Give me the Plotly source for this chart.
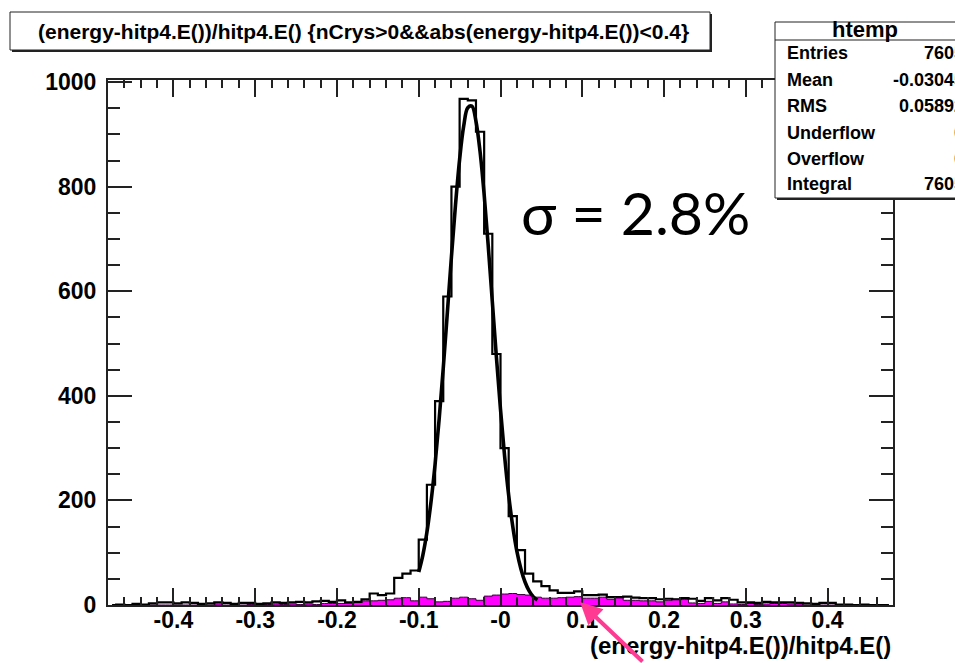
import numpy as np
import plotly.graph_objects as go

# ---------------- data ----------------
bin_low = -0.48
bin_width = 0.01
n_bins = 96

# black histogram: all entries (96 bins, -0.48 .. 0.48)
counts = [0, 1, 0, 2, 1, 3, 5, 5, 3, 5, 4, 2, 3, 5, 4, 2, 4, 4, 2, 3,
          5, 4, 5, 6, 5, 7, 8, 6, 9, 5, 6, 11, 22, 19, 22, 52, 60, 66, 125, 230,
          390, 590, 800, 968, 965, 905, 710, 480, 300, 170, 105, 60, 45, 36, 28, 23, 23, 26, 19, 19,
          20, 15, 15, 16, 14, 13, 13, 11, 12, 11, 13, 12, 8, 13, 9, 13, 10, 5, 5, 4,
          6, 5, 5, 5, 4, 3, 2, 4, 4, 1, 1, 0, 1, 0, 0, 0]

# magenta filled histogram (same binning)
sub_counts = [0, 0, 0, 0, 0, 0, 0, 0, 0, 0, 0, 0, 0, 2, 0, 0, 0, 1, 0, 1,
              2, 1, 2, 1, 2, 1, 3, 3, 3, 4, 6, 8, 8, 9, 10, 13, 14, 8, 15, 12,
              6, 7, 13, 15, 12, 9, 17, 19, 21, 22, 20, 19, 15, 13, 13, 14, 15, 16, 13, 13,
              15, 11, 14, 9, 9, 8, 8, 6, 9, 11, 11, 4, 3, 7, 3, 6, 2, 1, 3, 1,
              2, 3, 3, 2, 2, 0, 0, 0, 0, 0, 0, 0, 0, 0, 0, 0]

# fitted curve, points
fit_x = [-0.100, -0.095, -0.090, -0.085, -0.080, -0.075, -0.070, -0.065, -0.060, -0.055,
         -0.050, -0.045, -0.040, -0.035, -0.030, -0.025, -0.020, -0.015, -0.010, -0.005,
         0.000, 0.005, 0.010, 0.015, 0.020, 0.025, 0.030, 0.035, 0.040, 0.045]
fit_y = [63, 95, 139, 197, 269, 356, 453, 559, 666, 766,
         852, 916, 951, 954, 925, 867, 785, 687, 580, 474,
         374, 285, 210, 150, 103, 69, 44, 27, 16, 9.5]

x_tick_vals = [-0.4, -0.3, -0.2, -0.1, 0.0, 0.1, 0.2, 0.3, 0.4]
x_tick_text = ["-0.4", "-0.3", "-0.2", "-0.1", "-0", "0.1", "0.2", "0.3", "0.4"]
y_tick_vals = [0, 200, 400, 600, 800, 1000]
y_tick_text = ["0", "200", "400", "600", "800", "1000"]

title_text = "(energy-hitp4.E())/hitp4.E() {nCrys>0&&abs(energy-hitp4.E())<0.4}"
x_title = "(energy-hitp4.E())/hitp4.E()"
stats_name = "htemp"
stats_labels = ["Entries", "Mean", "RMS", "Underflow", "Overflow", "Integral"]
stats_values = ["7605", "-0.03045", "0.05892", "0", "0", "7605"]
sigma_text = "σ = 2.8%"

centers = np.round(bin_low + bin_width * (np.arange(n_bins) + 0.5), 4)

# ---------------- layout helpers ----------------
W, H = 955, 663
L, R, T, B = 108, 893, 80, 605


def px(x):
    return (x - L) / (R - L)


def py(y):
    return (B - y) / (B - T)


FONT = "Liberation Sans, Arial, sans-serif"

fig = go.Figure()
fig.add_trace(go.Scatter(x=centers, y=sub_counts, mode="lines",
                         line=dict(shape="hvh", color="#3a003a", width=1),
                         fill="tozeroy", fillcolor="#ff00ff", hoverinfo="skip"))
fig.add_trace(go.Scatter(x=centers, y=counts, mode="lines",
                         line=dict(shape="hvh", color="black", width=2.2), hoverinfo="skip"))
fig.add_trace(go.Scatter(x=fit_x, y=fit_y, mode="lines",
                         line=dict(shape="spline", color="black", width=3.6), hoverinfo="skip"))

axis_common = dict(showline=True, linewidth=2, linecolor="#222", mirror="ticks",
                   ticks="inside", tickcolor="#222", tickwidth=1.5,
                   showgrid=False, zeroline=False,
                   tickfont=dict(family=FONT, size=23, color="black", weight="bold"))

fig.update_layout(
    width=W, height=H,
    margin=dict(l=L, r=W - R, t=T, b=H - B, pad=0),
    paper_bgcolor="white", plot_bgcolor="white",
    showlegend=False,
    xaxis=dict(range=[-0.48, 0.48], tickmode="array", tickvals=x_tick_vals, ticktext=x_tick_text,
               ticklen=17, ticklabelstandoff=-7,
               minor=dict(ticks="inside", ticklen=8, tickmode="linear", tick0=0, dtick=0.02,
                          tickcolor="#222", tickwidth=1.5, showgrid=False),
               **axis_common),
    yaxis=dict(range=[0, 1004], tickmode="array", tickvals=y_tick_vals, ticktext=y_tick_text,
               ticklen=24, ticklabelstandoff=5,
               minor=dict(ticks="inside", ticklen=12, tickmode="linear", tick0=0, dtick=50,
                          tickcolor="#222", tickwidth=1.5, showgrid=False),
               **axis_common),
)

shapes = []
# title box with shadow
shapes.append(dict(type="rect", xref="paper", yref="paper", x0=px(12), x1=px(712), y0=py(52), y1=py(14),
                   fillcolor="#222", line=dict(width=0), layer="above"))
shapes.append(dict(type="rect", xref="paper", yref="paper", x0=px(10), x1=px(710), y0=py(50), y1=py(12),
                   fillcolor="white", line=dict(color="#222", width=1), layer="above"))
# stats box with shadow
shapes.append(dict(type="rect", xref="paper", yref="paper", x0=px(777), x1=px(990), y0=py(200), y1=py(24),
                   fillcolor="#222", line=dict(width=0), layer="above"))
shapes.append(dict(type="rect", xref="paper", yref="paper", x0=px(775), x1=px(988), y0=py(198), y1=py(22),
                   fillcolor="white", line=dict(color="#222", width=1), layer="above"))
shapes.append(dict(type="line", xref="paper", yref="paper", x0=px(775), x1=px(988), y0=py(40), y1=py(40),
                   line=dict(color="#222", width=1.2), layer="above"))
fig.update_layout(shapes=shapes)

ann = []
ann.append(dict(text=title_text, x=px(363), y=py(31), xref="paper", yref="paper",
                xanchor="center", yanchor="middle", showarrow=False,
                font=dict(family=FONT, size=21, color="black", weight="bold")))
ann.append(dict(text=stats_name, x=px(865), y=py(30), xref="paper", yref="paper",
                xanchor="center", yanchor="middle", showarrow=False,
                font=dict(family=FONT, size=22, color="black", weight="bold")))
row_y = [53, 80, 106, 133, 159, 184]
for lab, val, yy in zip(stats_labels, stats_values, row_y):
    ann.append(dict(text=lab, x=px(785), y=py(yy), xref="paper", yref="paper",
                    xanchor="left", yanchor="middle", showarrow=False,
                    font=dict(family=FONT, size=18, color="black", weight="bold")))
    ann.append(dict(text=val, x=px(966), y=py(yy), xref="paper", yref="paper",
                    xanchor="right", yanchor="middle", showarrow=False,
                    font=dict(family=FONT, size=18, color="black", weight="bold")))
ann.append(dict(text=sigma_text, x=px(519), y=py(212), xref="paper", yref="paper",
                xanchor="left", yanchor="middle", showarrow=False,
                font=dict(family="Lato, Noto Sans, sans-serif", size=59, color="black")))
ann.append(dict(text=x_title, x=px(893), y=py(645), xref="paper", yref="paper",
                xanchor="right", yanchor="middle", showarrow=False,
                font=dict(family=FONT, size=24, color="black", weight="bold")))
# pink arrow
ann.append(dict(text="", x=px(580), y=py(602), xref="paper", yref="paper",
                showarrow=True, ax=64, ay=70, axref="pixel", ayref="pixel",
                arrowhead=2, arrowsize=1.1, arrowwidth=4, arrowcolor="#ff3a92", standoff=0))
fig.update_layout(annotations=ann)

fig.write_html("out.html", config={"displayModeBar": False},
               post_script="document.body.style.margin='0px';document.body.style.padding='0px';")
